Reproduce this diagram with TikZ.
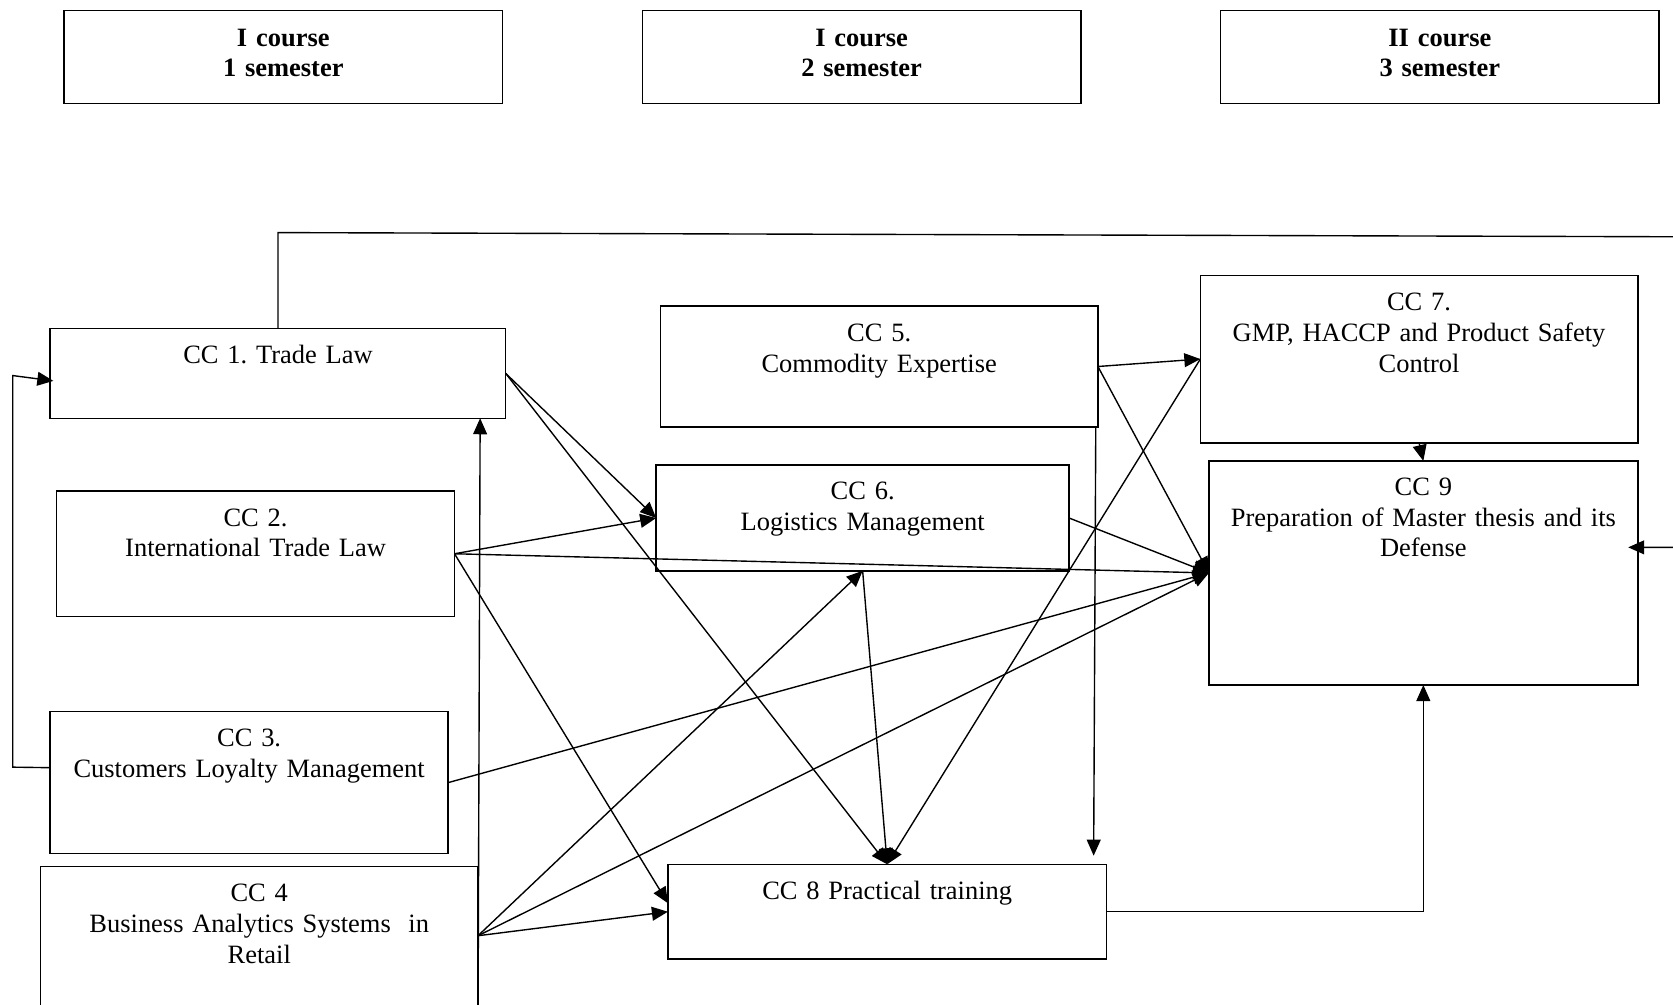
\documentclass[tikz,border=0pt]{standalone}
\usepackage{fontspec}
\setmainfont{Liberation Serif}
\usetikzlibrary{arrows.meta,calc}
\frenchspacing
\begin{document}
\begin{tikzpicture}[x=1pt,y=-1pt,
  box/.style={draw, line width=1.4pt, inner sep=0pt, outer sep=0pt},
  lbl/.style={anchor=base, align=center, inner sep=0pt, font=\fontsize{24.8}{29}\selectfont},
  hlbl/.style={anchor=base, align=center, inner sep=0pt, font=\fontsize{24.8}{28}\selectfont\bfseries},
  conn/.style={line width=1.3pt, -{Triangle[length=15pt,width=13pt]}}]
\useasboundingbox (0,0) rectangle (1568,941);
\clip (0,0) rectangle (1568,941);
% header boxes
\node[box, minimum width=411pt, minimum height=87pt] (hd1) at (265.5,53.5) {};
\node[box, minimum width=411pt, minimum height=87pt] (hd2) at (807.5,53.5) {};
\node[box, minimum width=411pt, minimum height=87pt] (hd3) at (1349.5,53.5) {};
\node[hlbl, text width=400pt] (th1) at ($(hd1.north)+(0,34)$) {I course\\1 semester};
\node[hlbl, text width=400pt] (th2) at ($(hd2.north)+(0,34)$) {I course\\2 semester};
\node[hlbl, text width=400pt] (th3) at ($(hd3.north)+(0,34)$) {II course\\3 semester};
% course boxes
\node[box, minimum width=427pt, minimum height=84pt] (cc1) at (260.5,350) {};
\node[box, minimum width=373pt, minimum height=118pt] (cc2) at (239.5,519) {};
\node[box, minimum width=373pt, minimum height=133pt] (cc3) at (233.5,733.5) {};
\node[box, minimum width=410pt, minimum height=158pt] (cc4) at (243,891) {};
\node[box, minimum width=410pt, minimum height=113pt] (cc5) at (824,343.5) {};
\node[box, minimum width=387pt, minimum height=99pt] (cc6) at (808.5,485.5) {};
\node[box, minimum width=410pt, minimum height=157pt] (cc7) at (1330,336.5) {};
\node[box, minimum width=402pt, minimum height=210pt] (cc9) at (1334,537) {};
\node[box, minimum width=411pt, minimum height=89pt] (cc8) at (831.5,854.5) {};
% labels
\node[lbl, text width=420pt] (t1) at ($(cc1.north)+(0,33)$) {CC 1. Trade Law};
\node[lbl, text width=370pt] (t2) at ($(cc2.north)+(0,33)$) {CC 2.\\International Trade Law};
\node[lbl, text width=370pt] (t3) at ($(cc3.north)+(0,33)$) {CC 3.\\Customers Loyalty Management};
\node[lbl, text width=400pt] (t4) at ($(cc4.north)+(0,33)$) {CC 4\\Business Analytics Systems~ in\\Retail};
\node[lbl, text width=400pt] (t5) at ($(cc5.north)+(0,33)$) {CC 5.\\Commodity Expertise};
\node[lbl, text width=380pt] (t6) at ($(cc6.north)+(0,32)$) {CC 6.\\Logistics Management};
\node[lbl, text width=400pt] (t7) at ($(cc7.north)+(0,33)$) {CC 7.\\GMP, HACCP and Product Safety\\Control};
\node[lbl, text width=400pt] (t9) at ($(cc9.north)+(0,32)$) {CC 9\\Preparation of Master thesis and its\\Defense};
\node[lbl, text width=400pt] (t8) at ($(cc8.north)+(0,33)$) {CC 8 Practical training};
% connectors
\draw[conn] (cc1.east) -- (cc6.west);
\draw[conn] (cc1.east) -- (cc8.north);
\draw[conn] (cc2.east) -- (cc6.west);
\draw[conn] (cc2.east) -- (cc9.west);
\draw[conn] (cc2.east) -- ($(cc8.west)+(0,-8)$);
\draw[conn] (cc3.east) -- (cc9.west);
\coordinate (c4o) at ($(cc4.east)+(0,-14)$);
\draw[conn] (c4o) -- (cc6.south);
\draw[conn] (c4o) -- (cc9.west);
\draw[conn] (c4o) -- (cc8.west);
\draw[conn] (cc5.east) -- (cc7.west);
\draw[conn] (cc5.east) -- (cc9.west);
\draw[conn] ($(cc5.south east)+(-2,0)$) -- ($(cc8.north east)+(-12,-8)$);
\draw[conn] (cc6.east) -- (cc9.west);
\draw[conn] (cc6.south) -- (cc8.north);
\draw[conn] (cc7.west) -- (cc8.north);
\draw[conn] (cc8.east) -| (cc9.south);
\draw[conn] (cc7.south) -- (cc9.north);
\coordinate (rt) at (1600,222);
\coordinate (rb) at (1600,513);
\draw[conn] (cc1.north) -- ++(0,-90) -- (rt) -- (rb) -- ($(cc9.east)+(-9,-24)$);
\coordinate (lb) at (12,719);
\coordinate (lt) at (12,352);
\draw[conn] ($(cc3.west)+(0,-14)$) -- (lb) -- (lt) -- ($(cc1.west)+(3,7)$);
\draw[conn] (cc4.south east) -- ($(cc1.south east)+(-24,0)$);
\end{tikzpicture}
\end{document}
